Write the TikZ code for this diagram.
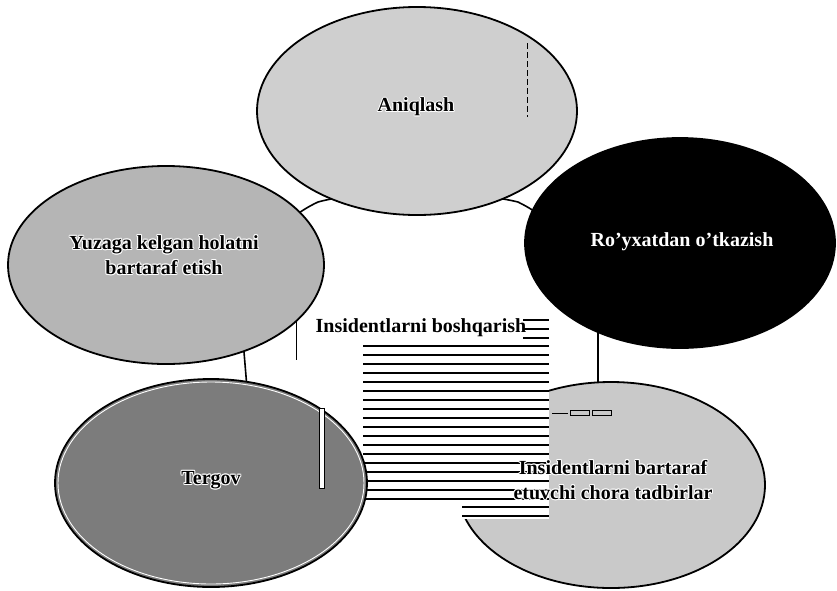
\documentclass[tikz,border=0pt]{standalone}
\usepackage{fontspec}
\setmainfont{Liberation Serif}
\usetikzlibrary{shapes.geometric}

\definecolor{bubbleLight}{HTML}{CFCFCF}
\definecolor{bubbleMid}{HTML}{B5B5B5}
\definecolor{bubbleDark}{HTML}{7C7C7C}
\definecolor{bubbleFix}{HTML}{C9C9C9}

% black lettering with a thin white rim
\newcommand\rimat[3]{\rlap{\kern#1\raisebox{#2}{\textcolor{white}{#3}}}}
\newcommand\rim[1]{\leavevmode\rimat{-1pt}{0pt}{#1}\rimat{1pt}{0pt}{#1}%
  \rimat{0pt}{1pt}{#1}\rimat{0pt}{-1pt}{#1}\rimat{-.7pt}{.7pt}{#1}%
  \rimat{.7pt}{.7pt}{#1}\rimat{-.7pt}{-.7pt}{#1}\rimat{.7pt}{-.7pt}{#1}#1}

\tikzset{
  bubble/.style={ellipse, draw=black, line width=1.8pt, inner sep=0pt},
  label text/.style={font=\fontsize{20}{25}\selectfont\bfseries, align=center, inner sep=0pt},
  hub edge/.style={draw=black, line width=1.6pt, line join=round},
  rule line/.style={draw=black, line width=1.3pt},
}

\begin{document}
\begin{tikzpicture}[x=1pt,y=-1pt]
\useasboundingbox[fill=white] (0,0) rectangle (837,590);

% central hub behind the bubbles
\fill[white] (248,400) -- (243,340) .. controls (243,265) and (275,222) .. (318,202)
  .. controls (360,190) and (470,190) .. (518,202)
  .. controls (565,225) and (598,270) .. (598,330) -- (598,400) -- cycle;
\draw[hub edge] (248,400) -- (243,340) .. controls (243,265) and (275,222) .. (318,202)
  .. controls (360,190) and (470,190) .. (518,202)
  .. controls (565,225) and (598,270) .. (598,330) -- (598,400);

% bubbles
\node[bubble, fill=bubbleLight, minimum width=320pt, minimum height=208pt] (detect) at (417,111) {};
\node[bubble, fill=bubbleMid, minimum width=316pt, minimum height=198pt] (resolve) at (166,265) {};
\node[bubble, fill=black, minimum width=310pt, minimum height=210pt] (register) at (680,243) {};
\node[bubble, fill=bubbleFix, minimum width=308pt, minimum height=206pt] (measures) at (611,485) {};

% ruled block under the hub title
\fill[white] (363,316) rectangle (549,519);
\foreach \y in {320,329,338} \draw[rule line] (523,\y) -- (549,\y);
\foreach \y in {346,355,...,500} \draw[rule line] (363,\y) -- (549,\y);
\foreach \y in {507,516} \draw[rule line] (462,\y) -- (549,\y);

\node[bubble, fill=bubbleDark, minimum width=312pt, minimum height=208pt] (probe) at (211,483) {};
\draw[white, line width=0.9pt] (probe.center) ellipse [x radius=153pt, y radius=101pt];

% small marks
\draw[black, line width=0.6pt, dash pattern=on 6pt off 3pt] (527,43) -- (527,117);
\filldraw[fill=white, draw=black, line width=0.6pt] (319,408) rectangle (324,488);
\draw[black, line width=0.5pt] (296,322) -- (296,360);
\draw[black, line width=1pt] (552,413) -- (568,413);
\draw[black, line width=0.7pt] (570,410) rectangle (589,415) (592,410) rectangle (611,415);

% labels
\node[label text] (detectT) at (416,107) {\rim{Aniqlash}};
\node[label text] (resolveT) at (164,255) {\rim{Yuzaga kelgan holatni}\\\rim{bartaraf etish}};
\node[label text, text=white] (registerT) at (682,242) {Ro'yxatdan o'tkazish};
\node[label text] (measuresT) at (613,480) {\rim{Insidentlarni bartaraf}\\\rim{etuvchi chora tadbirlar}};
\node[label text] (probeT) at (211,480) {\rim{Tergov}};
\node[label text] (hubT) at (421,328) {Insidentlarni boshqarish};
\end{tikzpicture}
\end{document}
